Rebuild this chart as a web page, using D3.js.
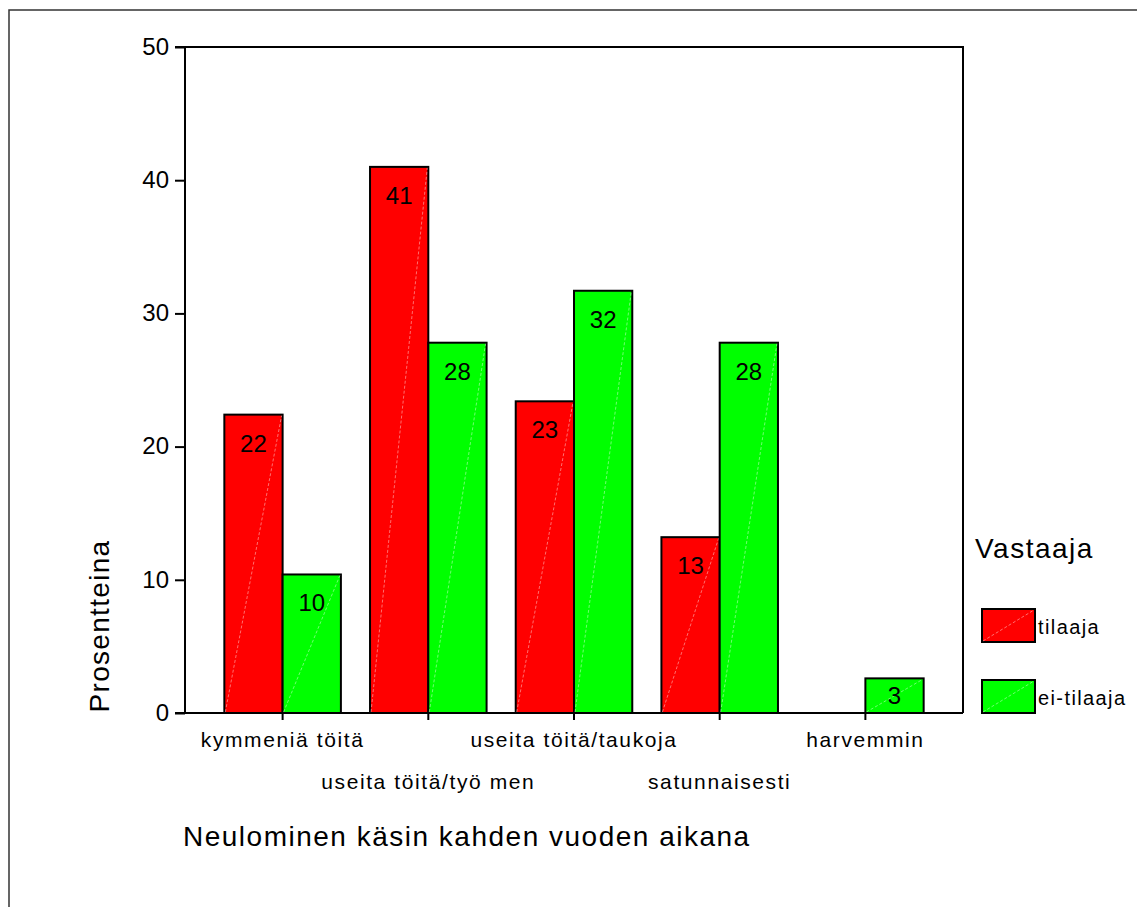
<!DOCTYPE html>
<html><head><meta charset="utf-8">
<script src="https://cdn.jsdelivr.net/npm/d3@7"></script>
<style>body{margin:0;background:#fff}svg{display:block}text{font-family:Arial,"Liberation Sans",sans-serif;fill:#000}</style>
</head><body>
<svg id="c" width="1137" height="907"></svg>
<script>
const categories = ["kymmeniä töitä","useita töitä/työ men","useita töitä/taukoja","satunnaisesti","harvemmin"];
const seriesNames = ["tilaaja","ei-tilaaja"];
const tilaaja = [22.4, 41.0, 23.4, 13.2, 0];
const eiTilaaja = [10.4, 27.8, 31.7, 27.8, 2.6];
const labelsTilaaja = ["22","41","23","13",""];
const labelsEi = ["10","28","32","28","3"];
const yTicks = [0,10,20,30,40,50];
const colors = ["#ff0000","#00ff00"];

const FONT = "Arial,'Liberation Sans',sans-serif";
const svg = d3.select("#c");
const L=185, R=963, T=47, B=713;
svg.append("rect").attr("x",9).attr("y",10).attr("width",1140).attr("height",910)
  .attr("fill","none").attr("stroke","#333").attr("stroke-width",1.5);

const x = d3.scaleBand().domain(categories).range([L,R]).paddingInner(0.2).paddingOuter(0.27);
const xs = d3.scaleBand().domain(seriesNames).range([0,x.bandwidth()]);
const y = d3.scaleLinear().domain([0,50]).range([B,T]);

svg.append("path").attr("d",`M${L-10},${T}H${R}V${B}`).attr("fill","none").attr("stroke","#000").attr("stroke-width",2);

const series = [tilaaja, eiTilaaja];
const labs = [labelsTilaaja, labelsEi];
series.forEach((vals,si)=>{
  const g = svg.append("g");
  categories.forEach((c,i)=>{
    const x0 = x(c)+xs(seriesNames[si]), w = xs.bandwidth(), y0 = y(vals[i]);
    if(vals[i]>0){
      g.append("rect").attr("x",x0).attr("y",y0).attr("width",w).attr("height",B-y0)
        .attr("fill",colors[si]).attr("stroke","#000").attr("stroke-width",2);
      g.append("line").attr("x1",x0+1).attr("y1",B-1).attr("x2",x0+w-1).attr("y2",y0+1)
        .attr("stroke","#fff").attr("stroke-opacity",0.55).attr("stroke-width",0.8).attr("stroke-dasharray","3,2");
      g.append("text").attr("x",x0+w/2).attr("y",y0+ (B-y0<40?26:37)).attr("text-anchor","middle")
        .attr("font-size",24).text(labs[si][i]);
    } else {
      g.append("line").attr("x1",x0).attr("x2",x0+w).attr("y1",B).attr("y2",B).attr("stroke","#000").attr("stroke-width",2);
    }
  });
});

const ya = svg.append("g").attr("transform",`translate(${L},0)`)
  .call(d3.axisLeft(y).tickValues(yTicks).tickSize(10).tickPadding(6).tickFormat(d3.format("d")));
ya.select(".domain").attr("d",`M0,${T}V${B}`).attr("stroke","#000").attr("stroke-width",2);
ya.selectAll(".tick line").attr("stroke","#000").attr("stroke-width",2);
ya.selectAll(".tick text").attr("font-size",24).attr("font-family",FONT).attr("fill","#000").attr("dy","0.3em");

const xa = svg.append("g").attr("transform",`translate(0,${B})`)
  .call(d3.axisBottom(x).tickSize(7).tickPadding(0));
xa.select(".domain").attr("d",`M${L-10},0H${R}`).attr("stroke","#000").attr("stroke-width",2);
xa.selectAll(".tick line").attr("stroke","#000").attr("stroke-width",2);
xa.selectAll(".tick text").attr("font-size",21).attr("letter-spacing",1.6).attr("font-family",FONT).attr("fill","#000")
  .attr("y",(d,i)=> i%2===0 ? 34 : 76).attr("dy",0);

svg.append("text").attr("transform","translate(109,626) rotate(-90)").attr("text-anchor","middle")
  .attr("font-size",28).attr("letter-spacing",1.3).text("Prosentteina");
svg.append("text").attr("x",183).attr("y",846).attr("font-size",28).attr("letter-spacing",1.5).text("Neulominen käsin kahden vuoden aikana");

svg.append("text").attr("x",975).attr("y",558).attr("font-size",28).attr("letter-spacing",1.5).text("Vastaaja");
seriesNames.forEach((s,i)=>{
  const yy = 609 + i*71;
  svg.append("rect").attr("x",982).attr("y",yy).attr("width",53).attr("height",33)
    .attr("fill",colors[i]).attr("stroke","#000").attr("stroke-width",2);
  svg.append("line").attr("x1",983).attr("y1",yy+32).attr("x2",1034).attr("y2",yy+1)
    .attr("stroke","#fff").attr("stroke-opacity",0.55).attr("stroke-width",0.8).attr("stroke-dasharray","3,2");
  svg.append("text").attr("x",1038).attr("y",yy+25).attr("font-size",20).attr("letter-spacing",1.4).text(s);
});
</script>
</body></html>
